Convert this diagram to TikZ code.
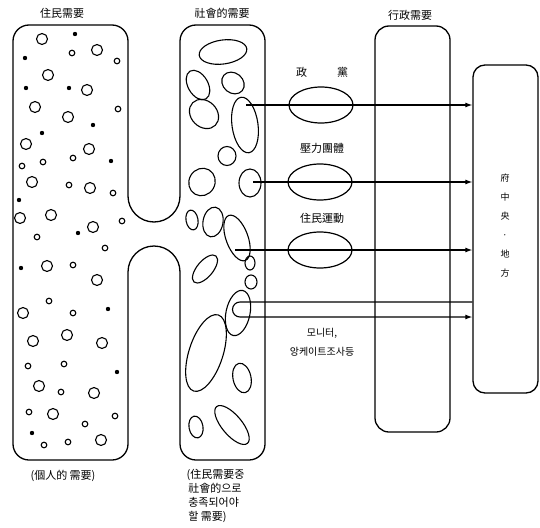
\documentclass[tikz,border=0pt]{standalone}
\usepackage{fontspec}
\newfontfamily\cjk{Noto Sans CJK KR}
\usetikzlibrary{arrows.meta,positioning,shapes.geometric,calc}

\begin{document}
\begin{tikzpicture}[
    x=1pt, y=-1pt,
    col/.style={draw, line width=1.3pt, rounded corners=14pt, inner sep=0pt},
    blob/.style={draw, line width=1.1pt},
    pill/.style={draw, line width=1.2pt, ellipse, minimum width=64pt, minimum height=36pt, inner sep=0pt},
    lab/.style={font=\cjk\fontsize{11}{14}\selectfont},
    small/.style={font=\cjk\fontsize{9}{19}\selectfont},
    arrow/.style={-{Latex[length=7pt,width=5pt]}, line width=1.1pt}
]
    \useasboundingbox (0,0) rectangle (540,527);

    % two joined columns (住民 / 社會的)
    \draw[line width=1.3pt]
        (128,196) -- (128,41) arc[start angle=0, end angle=-90, radius=16]
        -- (29,25) arc[start angle=-90, end angle=-180, radius=16]
        -- (13,444) arc[start angle=180, end angle=90, radius=16]
        -- (112,460) arc[start angle=90, end angle=0, radius=16]
        -- (128,272) arc[start angle=180, end angle=360, radius=26]
        -- (180,444) arc[start angle=180, end angle=90, radius=16]
        -- (249,460) arc[start angle=90, end angle=0, radius=16]
        -- (265,41) arc[start angle=0, end angle=-90, radius=16]
        -- (196,25) arc[start angle=-90, end angle=-180, radius=16]
        -- (180,196) arc[start angle=0, end angle=180, radius=26] -- cycle;

    \node [col, minimum width=75pt, minimum height=406pt] (admin) at (412.5,229) {};
    \node [col, rounded corners=12pt, minimum width=65pt, minimum height=328pt] (gov) at (505.5,229) {};

    % titles
    \node [lab] (lres) at (62,13) {住民需要};
    \node [lab] (sres) at (222,13) {社會的需要};
    \node [lab] (ares) at (410,15) {行政需要};
    \node [lab] (lnote) at (63,476) {(個人的 需要)};
    \node [lab, align=left, anchor=north west] (snote) at (183,466) {(住民需要중\\ \,社會的으로\\ \,충족되어야\\ \,할 需要)};

    % individual needs
    \foreach \cx/\cy in {42/39, 97/50, 48/75, 87/90, 35/107, 68/117, 26/144, 89/149, 32/182, 90/188,
        51/215, 20/218, 93/227, 47/266, 97/280, 23/313, 67/335, 33/341, 102/343, 39/386, 94/393, 53/414, 101/440}
        \draw[blob] (\cx,\cy) circle[radius=5.5];
    \foreach \cx/\cy in {72/53, 117/61, 118/109, 73/158, 43/162, 22/166, 69/185, 113/193, 122/221, 37/237,
        105/248, 73/265, 49/301, 73/313, 28/366, 64/364, 61/392, 29/412, 115/416, 85/424, 44/445, 68/442}
        \draw[blob] (\cx,\cy) circle[radius=2.8];
    \foreach \cx/\cy in {75/34, 25/58, 26/88, 69/88, 93/125, 42/133, 111/161, 19/200, 78/233, 21/268, 108/309, 117/372, 32/433}
        \fill (\cx,\cy) circle[radius=2.2];

    % social needs
    \foreach \cx/\cy/\rx/\ry/\a in {223/52/24/12/8, 198/85/16/10/-60, 233/83/12/10/-40, 204/114/16/13/-45,
        245/125/13/28/8, 227/156/9/9.5/0, 202/182/13/14/-30, 250/183/11/14/0, 192/220/6/10/10,
        213/222/10/15/-10, 237/238/11/24/20, 250/263/5/7/0, 205/269/17/8/50, 251/282/6/7/0,
        238/313/12/23/-12, 206/353/17/40/-18, 242/378/9/15/12, 196/427/7/11/10, 232/425/24/10/-50}
        \draw[blob, rotate around={\a:(\cx,\cy)}] (\cx,\cy) ellipse[x radius=\rx, y radius=\ry];

    % channels
    \node [pill] (party) at (321,105) {};
    \node [pill] (press) at (320,182) {};
    \node [pill] (move) at (320,250) {};
    \node [lab] (partyl) at (322,72) {政\hspace{30pt}黨};
    \node [lab] (pressl) at (322,148) {壓力團體};
    \node [lab] (movel) at (322,218) {住民運動};
    \node [lab, font=\cjk\fontsize{10}{19}\selectfont, align=center] (moni) at (322,342) {모니터,\\앙케이트조사등};

    \node [small, align=center] (govl) at (505,226) {府\\中\\央\\·\\地\\方};

    % demand flows
    \coordinate (s1) at (246,105);
    \coordinate (s2) at (253,182);
    \coordinate (s3) at (235,250);
    \coordinate (s4) at (240,302);
    \coordinate (s5) at (240,317);
    \draw [arrow] (s1) -- (s1 -| gov.west);
    \draw [arrow] (s2) -- (s2 -| gov.west);
    \draw [arrow] (s3) -- (s3 -| gov.west);
    \draw [arrow] (s4 -| gov.west) -- (s4) arc[start angle=270, end angle=90, radius=7.5] -- (s5 -| gov.west);
\end{tikzpicture}
\end{document}
